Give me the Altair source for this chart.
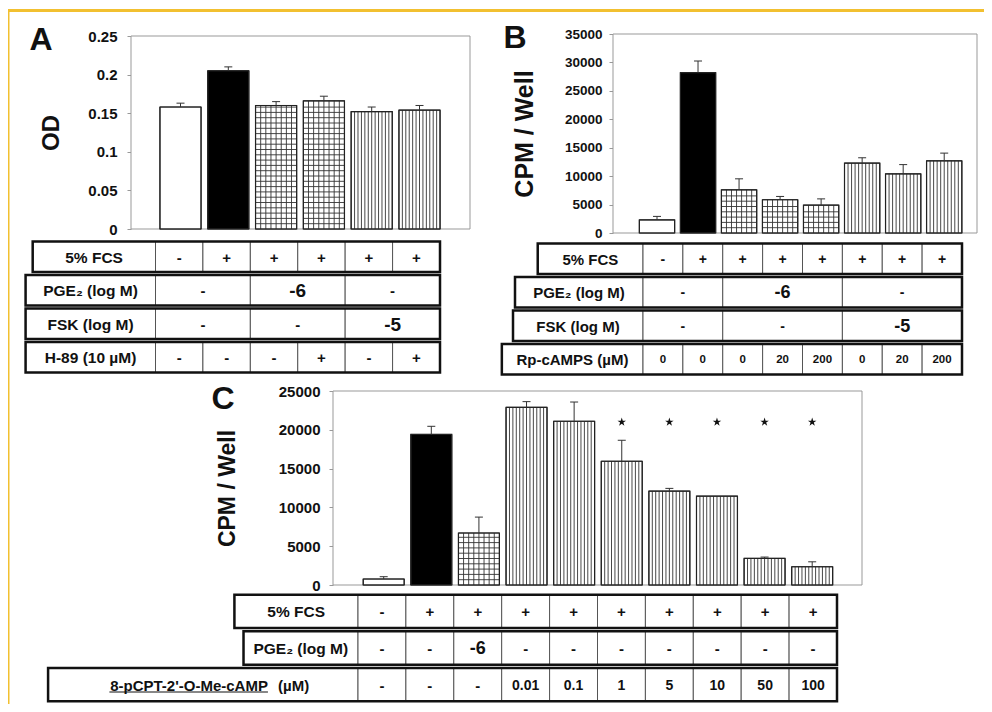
import altair as alt
import pandas as pd

# ---------------- Panel A ----------------
A_values = [0.158, 0.205, 0.160, 0.166, 0.152, 0.154]
A_errors = [0.005, 0.005, 0.005, 0.006, 0.006, 0.006]
A_patterns = ["open", "solid", "grid", "grid", "stripe", "stripe"]
A_ticks = [0, 0.05, 0.1, 0.15, 0.2, 0.25]
A_row_labels = ["5% FCS", "PGE₂ (log M)", "FSK (log M)", "H-89 (10 µM)"]
A_row_cells = [["-", "+", "+", "+", "+", "+"],
               ["-", "-6", "-"],
               ["-", "-", "-5"],
               ["-", "-", "-", "+", "-", "+"]]
A_row_spans = [[1] * 6, [2, 2, 2], [2, 2, 2], [1] * 6]

# ---------------- Panel B ----------------
B_values = [2300, 28200, 7600, 5850, 4900, 12300, 10400, 12700]
B_errors = [620, 2050, 1930, 580, 1100, 930, 1630, 1350]
B_patterns = ["open", "solid", "grid", "grid", "grid", "stripe", "stripe", "stripe"]
B_ticks = [0, 5000, 10000, 15000, 20000, 25000, 30000, 35000]
B_row_labels = ["5% FCS", "PGE₂ (log M)", "FSK (log M)", "Rp-cAMPS (µM)"]
B_row_cells = [["-", "+", "+", "+", "+", "+", "+", "+"],
               ["-", "-6", "-"],
               ["-", "-", "-5"],
               ["0", "0", "0", "20", "200", "0", "20", "200"]]
B_row_spans = [[1] * 8, [2, 3, 3], [2, 3, 3], [1] * 8]

# ---------------- Panel C ----------------
C_values = [770, 19400, 6700, 22900, 21100, 15950, 12100, 11450, 3430, 2350]
C_errors = [300, 1050, 2050, 730, 2480, 2700, 350, 0, 170, 640]
C_patterns = ["open", "solid", "grid", "stripe", "stripe", "stripe", "stripe", "stripe", "stripe", "stripe"]
C_significant = [False, False, False, False, False, True, True, True, True, True]
C_star_level = 21000
C_ticks = [0, 5000, 10000, 15000, 20000, 25000]
C_row_labels = ["5% FCS", "PGE₂ (log M)", "8-pCPT-2'-O-Me-cAMP"]
C_row_cells = [["-", "+", "+", "+", "+", "+", "+", "+", "+", "+"],
               ["-", "-", "-6", "-", "-", "-", "-", "-", "-", "-"],
               ["-", "-", "-", "0.01", "0.1", "1", "5", "10", "50", "100"]]
C_row_spans = [[1] * 10, [1] * 10, [1] * 10]

# ---------------- layout (page pixels) ----------------
FONT = "Liberation Sans"
INK = "#111111"
W, H = 976, 696


def view(v):
    return v - 8


LAYOUT = {
    "A": dict(frame_x=(131, 470), frame_y=(229, 36), ymax=0.25, c0=180.5, pitch=47.8,
              table_x=(155.5, 440), table_y=(240, 374), label_w=[2.59, 2.74, 2.74, 2.74],
              grid_cells=8, stripe_cells=12, letter=("A", 41, 40), fmt="~g",
              tick_fs=15, label_pad=10, ytitle="OD", title_fs=24, title_x=-68,
              sizes={"label": 15.5, "sym": 15, "big": 19, "num": 13}),
    "B": dict(frame_x=(613, 977), frame_y=(233, 34), ymax=35000, c0=657, pitch=41.03,
              table_x=(643, 962), table_y=(242, 376), label_w=[2.64, 3.21, 3.26, 3.54],
              grid_cells=7, stripe_cells=10, letter=("B", 515, 38), fmt="d",
              tick_fs=13.5, label_pad=7, ytitle="CPM / Well", title_fs=25, title_x=-76,
              sizes={"label": 15, "sym": 14, "big": 18, "num": 11.5}),
    "C": dict(frame_x=(333, 862), frame_y=(585, 391), ymax=25000, c0=383.7, pitch=47.61,
              table_x=(358, 837), table_y=(593, 703), label_w=[2.58, 2.39, 6.47],
              grid_cells=8, stripe_cells=12, letter=("C", 223, 399), fmt="d",
              tick_fs=15, label_pad=9, ytitle="CPM / Well", title_fs=23, title_x=-94,
              sizes={"label": 15.5, "sym": 15, "big": 18, "num": 14}),
}

BAR_HALF = 0.43
HATCH_PX = 5.3
CAP_PX = 4
STAR = "M0,-1L0.2245,-0.309L0.951,-0.309L0.363,0.118L0.588,0.809L0,0.382L-0.588,0.809L-0.363,0.118L-0.951,-0.309L-0.2245,-0.309Z"


def kind_of(t):
    if t in ("+", "-"):
        return "sym"
    if t in ("-6", "-5"):
        return "big"
    return "num"


def panel(values, errors, patterns, ticks, row_labels, row_cells, row_spans, L, significant=None):
    n = len(values)
    lo = -(L["c0"] - L["frame_x"][0]) / L["pitch"]
    hi = (L["frame_x"][1] - L["c0"]) / L["pitch"]
    frame_h = L["frame_y"][0] - L["frame_y"][1]

    def xs():
        return alt.Scale(domain=[lo, hi], range=[view(L["frame_x"][0]), view(L["frame_x"][1])], nice=False, zero=False)

    def ys():
        return alt.Scale(domain=[0, L["ymax"]], range=[view(L["frame_y"][0]), view(L["frame_y"][1])], nice=False, zero=False)

    nrows = len(row_labels)

    def tx():
        return alt.Scale(domain=[-0.5, n - 0.5], range=[view(L["table_x"][0]), view(L["table_x"][1])], nice=False, zero=False)

    def ty():
        return alt.Scale(domain=[0, nrows], range=[view(L["table_y"][0]), view(L["table_y"][1])], nice=False, zero=False)

    layers = []
    # frame
    frame = pd.DataFrame({"x0": [lo], "x1": [hi], "y0": [0], "y1": [L["ymax"]]})
    layers.append(alt.Chart(frame).mark_rect(fill="white", stroke="#999999", strokeWidth=1).encode(
        x=alt.X("x0:Q", scale=xs(), axis=None), x2="x1:Q",
        y=alt.Y("y0:Q", scale=ys(), axis=None), y2="y1:Q"))

    # bars
    bars = pd.DataFrame({"idx": list(range(n)), "value": values, "pattern": patterns})
    bars["x0"] = bars["idx"] - BAR_HALF
    bars["x1"] = bars["idx"] + BAR_HALF
    bars["y0"] = 0.0
    yaxis = alt.Axis(values=ticks, format=L["fmt"], orient="left", offset=-view(L["frame_x"][0]),
                     domain=False, ticks=True, tickSize=4, tickColor="#999999", grid=False,
                     labelFont=FONT, labelFontSize=L["tick_fs"], labelFontWeight="bold", labelColor=INK,
                     labelPadding=L["label_pad"], title=L["ytitle"], titleFont=FONT,
                     titleFontSize=L["title_fs"], titleFontWeight="bold", titleColor=INK,
                     titleX=L["title_x"])
    layers.append(alt.Chart(bars).mark_rect(stroke="#222222", strokeWidth=1).encode(
        x=alt.X("x0:Q", scale=xs(), axis=None), x2="x1:Q",
        y=alt.Y("y0:Q", scale=ys(), axis=yaxis), y2="value:Q",
        fill=alt.Fill("pattern:N", scale=alt.Scale(domain=["open", "solid", "grid", "stripe"],
                                                   range=["white", "black", "white", "white"]), legend=None)))

    # hatching
    vrows, hrows = [], []
    hstep = HATCH_PX * L["ymax"] / frame_h
    for i, (v, pt) in enumerate(zip(values, patterns)):
        x0, x1 = i - BAR_HALF, i + BAR_HALF
        if pt in ("grid", "stripe"):
            m = L["grid_cells"] if pt == "grid" else L["stripe_cells"]
            for k in range(1, m):
                vrows.append({"x": x0 + k * (x1 - x0) / m, "y0": 0.0, "y1": v})
        if pt == "grid":
            k = 1
            while k * hstep < v - hstep * 0.3:
                hrows.append({"x0": x0, "x1": x1, "y": k * hstep})
                k += 1
    layers.append(alt.Chart(pd.DataFrame(vrows)).mark_rule(color="#333333", strokeWidth=0.9).encode(
        x=alt.X("x:Q", scale=xs(), axis=None),
        y=alt.Y("y0:Q", scale=ys(), axis=None), y2="y1:Q"))
    layers.append(alt.Chart(pd.DataFrame(hrows)).mark_rule(color="#333333", strokeWidth=0.9).encode(
        x=alt.X("x0:Q", scale=xs(), axis=None), x2="x1:Q",
        y=alt.Y("y:Q", scale=ys(), axis=None)))
    # bar outline on top of hatching
    layers.append(alt.Chart(bars).mark_rect(fillOpacity=0, stroke="#222222", strokeWidth=1.2).encode(
        x=alt.X("x0:Q", scale=xs(), axis=None), x2="x1:Q",
        y=alt.Y("y0:Q", scale=ys(), axis=None), y2="value:Q"))

    # error bars
    err = pd.DataFrame({"idx": list(range(n)), "value": values, "err": errors})
    err = err[err["err"] > 0].copy()
    err["top"] = err["value"] + err["err"]
    cap = CAP_PX / L["pitch"]
    err["c0"] = err["idx"] - cap
    err["c1"] = err["idx"] + cap
    layers.append(alt.Chart(err).mark_rule(color="#333333", strokeWidth=1).encode(
        x=alt.X("idx:Q", scale=xs(), axis=None),
        y=alt.Y("value:Q", scale=ys(), axis=None), y2="top:Q"))
    layers.append(alt.Chart(err).mark_rule(color="#333333", strokeWidth=1).encode(
        x=alt.X("c0:Q", scale=xs(), axis=None), x2="c1:Q",
        y=alt.Y("top:Q", scale=ys(), axis=None)))

    # significance stars
    if significant is not None:
        st = pd.DataFrame({"idx": [i for i, s in enumerate(significant) if s]})
        st["y"] = C_star_level
        layers.append(alt.Chart(st).mark_point(shape=STAR, filled=True, color=INK, size=80, opacity=1).encode(
            x=alt.X("idx:Q", scale=xs(), axis=None),
            y=alt.Y("y:Q", scale=ys(), axis=None)))

    # panel letter
    letter, lx, ly = L["letter"]
    let = pd.DataFrame({"t": [letter], "x": [lo + (lx - L["frame_x"][0]) / L["pitch"]],
                        "y": [(L["frame_y"][0] - ly) / frame_h * L["ymax"]]})
    layers.append(alt.Chart(let).mark_text(font=FONT, fontSize=32, fontWeight="bold", color=INK,
                                           align="center", baseline="middle").encode(
        x=alt.X("x:Q", scale=xs(), axis=None), y=alt.Y("y:Q", scale=ys(), axis=None), text="t:N"))

    # condition table
    g = 0.045
    cells, boxes, texts = [], [], []
    for r, (lab, row, sp) in enumerate(zip(row_labels, row_cells, row_spans)):
        left = -0.5 - L["label_w"][r]
        r0, r1 = r + g, r + 1 - g
        cells.append({"c0": left, "c1": -0.5, "r0": r0, "r1": r1})
        boxes.append({"c0": left, "c1": n - 0.5, "r0": r0, "r1": r1})
        texts.append({"x": (left - 0.5) / 2, "y": r + 0.5, "t": lab, "kind": "label", "row": r})
        pos = -0.5
        for t, s in zip(row, sp):
            cells.append({"c0": pos, "c1": pos + s, "r0": r0, "r1": r1})
            texts.append({"x": pos + s / 2, "y": r + 0.5, "t": t, "kind": kind_of(t), "row": r})
            pos += s
    layers.append(alt.Chart(pd.DataFrame(cells)).mark_rect(fill="white", stroke="#555555", strokeWidth=1).encode(
        x=alt.X("c0:Q", scale=tx(), axis=None), x2="c1:Q",
        y=alt.Y("r0:Q", scale=ty(), axis=None), y2="r1:Q"))
    layers.append(alt.Chart(pd.DataFrame(boxes)).mark_rect(fillOpacity=0, stroke="#111111", strokeWidth=2.5).encode(
        x=alt.X("c0:Q", scale=tx(), axis=None), x2="c1:Q",
        y=alt.Y("r0:Q", scale=ty(), axis=None), y2="r1:Q"))
    tdf = pd.DataFrame(texts)
    special = L.get("special_label")
    if special is not None:
        tdf = tdf[~((tdf["kind"] == "label") & (tdf["row"] == special["row"]))]
    for kind in ["label", "sym", "big", "num"]:
        sub = tdf[tdf["kind"] == kind]
        if len(sub) == 0:
            continue
        layers.append(alt.Chart(sub).mark_text(font=FONT, fontWeight="bold", color=INK,
                                               fontSize=L["sizes"][kind],
                                               align="center", baseline="middle", dy=1).encode(
            x=alt.X("x:Q", scale=tx(), axis=None), y=alt.Y("y:Q", scale=ty(), axis=None), text="t:N"))
    if special is not None:
        r = special["row"]
        sdf = pd.DataFrame({"x": [special["name_right"]], "y": [r + 0.5], "t": [row_labels[r]]})
        layers.append(alt.Chart(sdf).mark_text(font=FONT, fontWeight="bold", color=INK, fontSize=special["fs"],
                                               align="right", baseline="middle", dy=1).encode(
            x=alt.X("x:Q", scale=tx(), axis=None), y=alt.Y("y:Q", scale=ty(), axis=None), text="t:N"))
        udf = pd.DataFrame({"x": [special["unit_left"]], "y": [r + 0.5], "t": ["(µM)"]})
        layers.append(alt.Chart(udf).mark_text(font=FONT, fontWeight="bold", color=INK, fontSize=special["fs"],
                                               align="left", baseline="middle", dy=1).encode(
            x=alt.X("x:Q", scale=tx(), axis=None), y=alt.Y("y:Q", scale=ty(), axis=None), text="t:N"))
        ul = pd.DataFrame({"x0": [special["name_right"] - special["name_w"]], "x1": [special["name_right"]],
                           "y": [r + 0.5 + special["under"]]})
        layers.append(alt.Chart(ul).mark_rule(color=INK, strokeWidth=1.2).encode(
            x=alt.X("x0:Q", scale=tx(), axis=None), x2="x1:Q",
            y=alt.Y("y:Q", scale=ty(), axis=None)))
    return layers


LAYOUT["C"]["special_label"] = dict(row=2, name_right=-2.38, unit_left=-2.17, name_w=3.31, under=0.2, fs=15)

layers = []
layers += panel(A_values, A_errors, A_patterns, A_ticks, A_row_labels, A_row_cells, A_row_spans, LAYOUT["A"])
layers += panel(B_values, B_errors, B_patterns, B_ticks, B_row_labels, B_row_cells, B_row_spans, LAYOUT["B"])
layers += panel(C_values, C_errors, C_patterns, C_ticks, C_row_labels, C_row_cells, C_row_spans, LAYOUT["C"],
                significant=C_significant)

# decorative journal border (gold) along top and left
dummy = pd.DataFrame({"a": [0]})
layers.append(alt.Chart(dummy).mark_rule(color="#f2c030", strokeWidth=3).encode(
    x=alt.value(0), x2=alt.value(W), y=alt.value(2.5)))
layers.append(alt.Chart(dummy).mark_rule(color="#f2c030", strokeWidth=2).encode(
    x=alt.value(0.5), y=alt.value(1), y2=alt.value(H)))

chart = alt.layer(*layers).resolve_scale(
    x="independent", y="independent", fill="independent"
).properties(
    width=W, height=H, autosize=alt.AutoSizeParams(type="none"), padding=0, background="white"
).configure_view(stroke=None)

chart.save("out.html", embed_options={"renderer": "svg", "actions": False})
